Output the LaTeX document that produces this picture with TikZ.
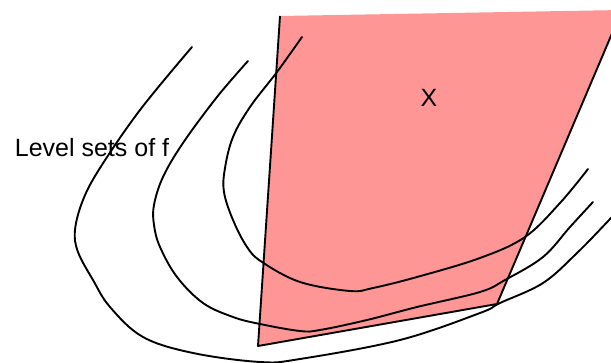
\documentclass[tikz,border=0pt]{standalone}
\usepackage{fontspec}
\setmainfont{Liberation Sans}
\definecolor{regionpink}{RGB}{255,150,150}
\begin{document}
\begin{tikzpicture}[x=1pt,y=-1pt,
  levelset/.style={black,line width=1.9pt,line cap=round,line join=round},
  edge/.style={black,line width=1.9pt,line join=round},
  lbl/.style={font=\fontsize{25}{29}\selectfont,inner sep=0pt}]
\useasboundingbox (0,0) rectangle (611,363);
\clip (0,0) rectangle (611,363);
% region X
\coordinate (tl) at (280,16);
\coordinate (bl) at (258,346);
\coordinate (br) at (497,304);
\coordinate (tr) at (622,10);
\fill[regionpink] (tl) -- (bl) -- (br) -- (tr) -- cycle;
\draw[edge] (tl) -- (bl) -- (br) -- (tr);
% level sets
\draw[levelset] plot[smooth,tension=0.6] coordinates {
  (192,47) (140,110) (100,168) (83,200) (75,230) (78,252) (93,280) (110,307)
  (143,337) (193,353) (260,362) (300,359) (400,340) (480,313) (500,303)
  (543,283) (577,253) (611,218) (622,206)};
\draw[levelset] plot[smooth,tension=0.6] coordinates {
  (248,61) (217,97) (183,143) (163,177) (154,205) (154,225) (160,247) (177,277)
  (203,303) (233,317) (260,324) (300,331) (320,330) (367,320) (417,307)
  (480,292) (505,280) (543,257) (570,227) (593,202)};
\draw[levelset] plot[smooth,tension=0.6] coordinates {
  (302,37) (277,72) (250,107) (233,137) (225,168) (224,192) (233,220) (247,247)
  (262,262) (300,282) (350,291) (373,288) (417,277) (480,258) (525,237)
  (560,203) (588,169)};
% labels
\node[lbl] (levels) at (92,148) {Level sets of f};
\node[lbl] (xlabel) at (429,98) {X};
\end{tikzpicture}
\end{document}
